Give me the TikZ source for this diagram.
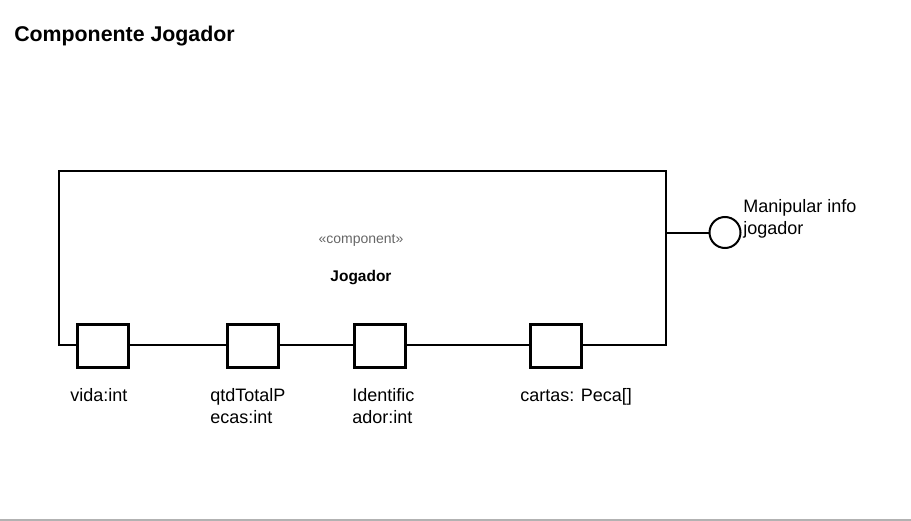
\documentclass[tikz,border=0pt]{standalone}
\usepackage{fontspec}
\setmainfont{Liberation Sans}
\newcommand\twoline[2]{\vtop{\hbox{#1}\hbox{#2}}}
\begin{document}
\begin{tikzpicture}[x=0.75pt,y=-0.75pt,
  compbox/.style={draw,line width=1.5pt,rectangle,minimum width=606.5*0.75pt,minimum height=174*0.75pt,inner sep=0,anchor=north west},
  portbox/.style={draw,line width=2.25pt,fill=white,rectangle,minimum width=51*0.75pt,minimum height=43*0.75pt,inner sep=0},
  lbl/.style={anchor=base west,inner sep=0,font=\fontsize{13.5}{16.5}\selectfont},
  conn/.style={line width=1.5pt},
  iface/.style={draw,line width=1.5pt,circle,minimum size=31*0.75pt,inner sep=0,fill=white}]
\useasboundingbox (0,0) rectangle (911,521);
\draw[line width=1.1pt,black!30] (0,520) -- (911,520);
\node[anchor=base west,inner sep=0,font=\fontsize{16}{18}\selectfont\bfseries] (title) at (14,41.5) {Componente Jogador};
\node[compbox] (comp) at (58,170) {};
\node[anchor=base,inner sep=0,font=\fontsize{10.5}{12}\selectfont,text=black!60] (stereo) at (361,243.5) {«component»};
\node[anchor=base,inner sep=0,font=\fontsize{11.6}{13}\selectfont\bfseries] (cname) at (361,281) {Jogador};
\node[portbox] (p1) at (102.5,345.5) {};
\node[portbox] (p2) at (252.5,345.5) {};
\node[portbox] (p3) at (380,345.5) {};
\node[portbox] (p4) at (556,345.5) {};
\coordinate (ifs) at (665,232.5);
\node[iface] (i1) at (725,232.5) {};
\draw[conn] (ifs) -- (i1.west);
\node[lbl] (l1) at (70,401) {vida:int};
\node[lbl] (l2) at (210,401) {\twoline{qtdTotalP}{ecas:int}};
\node[lbl] (l3) at (352,401) {\twoline{Identific}{ador:int}};
\node[lbl] (l4) at (520,401) {cartas: Peca[]};
\node[lbl] (li) at (743,212) {\twoline{Manipular info}{jogador}};
\end{tikzpicture}
\end{document}
